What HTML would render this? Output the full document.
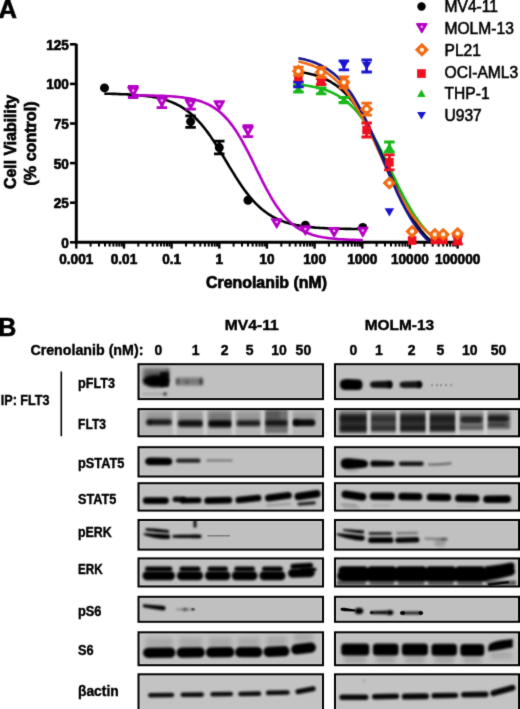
<!DOCTYPE html>
<html><head><meta charset="utf-8"><title>Figure</title>
<style>html,body{margin:0;padding:0;background:#fff;overflow:hidden}svg{display:block}text{font-family:"Liberation Sans",sans-serif}</style>
</head><body>
<svg width="520" height="709" viewBox="0 0 520 709" font-family="Liberation Sans, sans-serif"><defs><filter id="gall" filterUnits="userSpaceOnUse" x="0" y="0" width="520" height="709" color-interpolation-filters="sRGB"><feConvolveMatrix order="3" kernelMatrix="0.0144 0.0912 0.0144 0.0912 0.5776 0.0912 0.0144 0.0912 0.0144" divisor="1" edgeMode="duplicate" preserveAlpha="false"/></filter><filter id="bl5" filterUnits="userSpaceOnUse" x="0" y="0" width="520" height="720"><feGaussianBlur stdDeviation="0.5"/></filter><filter id="bl6" filterUnits="userSpaceOnUse" x="0" y="0" width="520" height="720"><feGaussianBlur stdDeviation="0.6"/></filter><filter id="bl7" filterUnits="userSpaceOnUse" x="0" y="0" width="520" height="720"><feGaussianBlur stdDeviation="0.7"/></filter><filter id="bl8" filterUnits="userSpaceOnUse" x="0" y="0" width="520" height="720"><feGaussianBlur stdDeviation="0.8"/></filter><filter id="bl9" filterUnits="userSpaceOnUse" x="0" y="0" width="520" height="720"><feGaussianBlur stdDeviation="0.9"/></filter><filter id="bl10" filterUnits="userSpaceOnUse" x="0" y="0" width="520" height="720"><feGaussianBlur stdDeviation="1.0"/></filter><filter id="bl11" filterUnits="userSpaceOnUse" x="0" y="0" width="520" height="720"><feGaussianBlur stdDeviation="1.1"/></filter><filter id="bl12" filterUnits="userSpaceOnUse" x="0" y="0" width="520" height="720"><feGaussianBlur stdDeviation="1.2"/></filter><filter id="bl13" filterUnits="userSpaceOnUse" x="0" y="0" width="520" height="720"><feGaussianBlur stdDeviation="1.3"/></filter><filter id="bl14" filterUnits="userSpaceOnUse" x="0" y="0" width="520" height="720"><feGaussianBlur stdDeviation="1.4"/></filter><filter id="bl15" filterUnits="userSpaceOnUse" x="0" y="0" width="520" height="720"><feGaussianBlur stdDeviation="1.5"/></filter><filter id="bl16" filterUnits="userSpaceOnUse" x="0" y="0" width="520" height="720"><feGaussianBlur stdDeviation="1.6"/></filter><filter id="bl20" filterUnits="userSpaceOnUse" x="0" y="0" width="520" height="720"><feGaussianBlur stdDeviation="2.0"/></filter><filter id="bl22" filterUnits="userSpaceOnUse" x="0" y="0" width="520" height="720"><feGaussianBlur stdDeviation="2.2"/></filter></defs><rect width="520" height="709" fill="#fff"/><g filter="url(#gall)"><rect width="520" height="709" fill="#fff"/><text x="-1.4" y="17.8" font-size="25.6" font-weight="bold" stroke="#000" stroke-width="0.6">A</text><path d="M76.3 43.8 V242.3 H458.08" fill="none" stroke="#000" stroke-width="3"/><path d="M70 242.3 H76.3" stroke="#000" stroke-width="2.6"/><text x="68.9" y="247.8" font-size="14.6" font-weight="bold" text-anchor="end" textLength="7.6" lengthAdjust="spacingAndGlyphs" stroke="#000" stroke-width="0.7">0</text><path d="M70 202.7 H76.3" stroke="#000" stroke-width="2.6"/><text x="68.9" y="208.2" font-size="14.6" font-weight="bold" text-anchor="end" textLength="15.1" lengthAdjust="spacingAndGlyphs" stroke="#000" stroke-width="0.7">25</text><path d="M70 163.1 H76.3" stroke="#000" stroke-width="2.6"/><text x="68.9" y="168.6" font-size="14.6" font-weight="bold" text-anchor="end" textLength="15.1" lengthAdjust="spacingAndGlyphs" stroke="#000" stroke-width="0.7">50</text><path d="M70 123.5 H76.3" stroke="#000" stroke-width="2.6"/><text x="68.9" y="129.0" font-size="14.6" font-weight="bold" text-anchor="end" textLength="15.1" lengthAdjust="spacingAndGlyphs" stroke="#000" stroke-width="0.7">75</text><path d="M70 83.9 H76.3" stroke="#000" stroke-width="2.6"/><text x="68.9" y="89.4" font-size="14.6" font-weight="bold" text-anchor="end" textLength="22.7" lengthAdjust="spacingAndGlyphs" stroke="#000" stroke-width="0.7">100</text><path d="M70 44.3 H76.3" stroke="#000" stroke-width="2.6"/><text x="68.9" y="49.8" font-size="14.6" font-weight="bold" text-anchor="end" textLength="22.7" lengthAdjust="spacingAndGlyphs" stroke="#000" stroke-width="0.7">125</text><path d="M76.3 242.3 V248.6" stroke="#000" stroke-width="2.4"/><text x="76.3" y="264" font-size="14.6" font-weight="bold" text-anchor="middle" textLength="34.0" lengthAdjust="spacingAndGlyphs" stroke="#000" stroke-width="0.7">0.001</text><path d="M90.6 242.3 V246.6" stroke="#000" stroke-width="2"/><path d="M99.0 242.3 V246.6" stroke="#000" stroke-width="2"/><path d="M105.0 242.3 V246.6" stroke="#000" stroke-width="2"/><path d="M109.6 242.3 V246.6" stroke="#000" stroke-width="2"/><path d="M113.4 242.3 V246.6" stroke="#000" stroke-width="2"/><path d="M116.6 242.3 V246.6" stroke="#000" stroke-width="2"/><path d="M119.3 242.3 V246.6" stroke="#000" stroke-width="2"/><path d="M121.8 242.3 V246.6" stroke="#000" stroke-width="2"/><path d="M124.0 242.3 V248.6" stroke="#000" stroke-width="2.4"/><text x="124.0" y="264" font-size="14.6" font-weight="bold" text-anchor="middle" textLength="26.5" lengthAdjust="spacingAndGlyphs" stroke="#000" stroke-width="0.7">0.01</text><path d="M138.3 242.3 V246.6" stroke="#000" stroke-width="2"/><path d="M146.7 242.3 V246.6" stroke="#000" stroke-width="2"/><path d="M152.7 242.3 V246.6" stroke="#000" stroke-width="2"/><path d="M157.3 242.3 V246.6" stroke="#000" stroke-width="2"/><path d="M161.0 242.3 V246.6" stroke="#000" stroke-width="2"/><path d="M164.2 242.3 V246.6" stroke="#000" stroke-width="2"/><path d="M167.0 242.3 V246.6" stroke="#000" stroke-width="2"/><path d="M169.4 242.3 V246.6" stroke="#000" stroke-width="2"/><path d="M171.6 242.3 V248.6" stroke="#000" stroke-width="2.4"/><text x="171.6" y="264" font-size="14.6" font-weight="bold" text-anchor="middle" textLength="18.9" lengthAdjust="spacingAndGlyphs" stroke="#000" stroke-width="0.7">0.1</text><path d="M186.0 242.3 V246.6" stroke="#000" stroke-width="2"/><path d="M194.4 242.3 V246.6" stroke="#000" stroke-width="2"/><path d="M200.3 242.3 V246.6" stroke="#000" stroke-width="2"/><path d="M204.9 242.3 V246.6" stroke="#000" stroke-width="2"/><path d="M208.7 242.3 V246.6" stroke="#000" stroke-width="2"/><path d="M211.9 242.3 V246.6" stroke="#000" stroke-width="2"/><path d="M214.7 242.3 V246.6" stroke="#000" stroke-width="2"/><path d="M217.1 242.3 V246.6" stroke="#000" stroke-width="2"/><path d="M219.3 242.3 V248.6" stroke="#000" stroke-width="2.4"/><text x="219.3" y="264" font-size="14.6" font-weight="bold" text-anchor="middle" textLength="7.6" lengthAdjust="spacingAndGlyphs" stroke="#000" stroke-width="0.7">1</text><path d="M233.6 242.3 V246.6" stroke="#000" stroke-width="2"/><path d="M242.0 242.3 V246.6" stroke="#000" stroke-width="2"/><path d="M248.0 242.3 V246.6" stroke="#000" stroke-width="2"/><path d="M252.6 242.3 V246.6" stroke="#000" stroke-width="2"/><path d="M256.4 242.3 V246.6" stroke="#000" stroke-width="2"/><path d="M259.6 242.3 V246.6" stroke="#000" stroke-width="2"/><path d="M262.3 242.3 V246.6" stroke="#000" stroke-width="2"/><path d="M264.8 242.3 V246.6" stroke="#000" stroke-width="2"/><path d="M266.9 242.3 V248.6" stroke="#000" stroke-width="2.4"/><text x="266.9" y="264" font-size="14.6" font-weight="bold" text-anchor="middle" textLength="15.1" lengthAdjust="spacingAndGlyphs" stroke="#000" stroke-width="0.7">10</text><path d="M281.3 242.3 V246.6" stroke="#000" stroke-width="2"/><path d="M289.7 242.3 V246.6" stroke="#000" stroke-width="2"/><path d="M295.6 242.3 V246.6" stroke="#000" stroke-width="2"/><path d="M300.3 242.3 V246.6" stroke="#000" stroke-width="2"/><path d="M304.0 242.3 V246.6" stroke="#000" stroke-width="2"/><path d="M307.2 242.3 V246.6" stroke="#000" stroke-width="2"/><path d="M310.0 242.3 V246.6" stroke="#000" stroke-width="2"/><path d="M312.4 242.3 V246.6" stroke="#000" stroke-width="2"/><path d="M314.6 242.3 V248.6" stroke="#000" stroke-width="2.4"/><text x="314.6" y="264" font-size="14.6" font-weight="bold" text-anchor="middle" textLength="22.7" lengthAdjust="spacingAndGlyphs" stroke="#000" stroke-width="0.7">100</text><path d="M328.9 242.3 V246.6" stroke="#000" stroke-width="2"/><path d="M337.3 242.3 V246.6" stroke="#000" stroke-width="2"/><path d="M343.3 242.3 V246.6" stroke="#000" stroke-width="2"/><path d="M347.9 242.3 V246.6" stroke="#000" stroke-width="2"/><path d="M351.7 242.3 V246.6" stroke="#000" stroke-width="2"/><path d="M354.9 242.3 V246.6" stroke="#000" stroke-width="2"/><path d="M357.6 242.3 V246.6" stroke="#000" stroke-width="2"/><path d="M360.1 242.3 V246.6" stroke="#000" stroke-width="2"/><path d="M362.3 242.3 V248.6" stroke="#000" stroke-width="2.4"/><text x="362.3" y="264" font-size="14.6" font-weight="bold" text-anchor="middle" textLength="30.2" lengthAdjust="spacingAndGlyphs" stroke="#000" stroke-width="0.7">1000</text><path d="M376.6 242.3 V246.6" stroke="#000" stroke-width="2"/><path d="M385.0 242.3 V246.6" stroke="#000" stroke-width="2"/><path d="M391.0 242.3 V246.6" stroke="#000" stroke-width="2"/><path d="M395.6 242.3 V246.6" stroke="#000" stroke-width="2"/><path d="M399.3 242.3 V246.6" stroke="#000" stroke-width="2"/><path d="M402.5 242.3 V246.6" stroke="#000" stroke-width="2"/><path d="M405.3 242.3 V246.6" stroke="#000" stroke-width="2"/><path d="M407.7 242.3 V246.6" stroke="#000" stroke-width="2"/><path d="M409.9 242.3 V248.6" stroke="#000" stroke-width="2.4"/><text x="409.9" y="264" font-size="14.6" font-weight="bold" text-anchor="middle" textLength="37.8" lengthAdjust="spacingAndGlyphs" stroke="#000" stroke-width="0.7">10000</text><path d="M424.3 242.3 V246.6" stroke="#000" stroke-width="2"/><path d="M432.7 242.3 V246.6" stroke="#000" stroke-width="2"/><path d="M438.6 242.3 V246.6" stroke="#000" stroke-width="2"/><path d="M443.2 242.3 V246.6" stroke="#000" stroke-width="2"/><path d="M447.0 242.3 V246.6" stroke="#000" stroke-width="2"/><path d="M450.2 242.3 V246.6" stroke="#000" stroke-width="2"/><path d="M453.0 242.3 V246.6" stroke="#000" stroke-width="2"/><path d="M455.4 242.3 V246.6" stroke="#000" stroke-width="2"/><path d="M457.6 242.3 V248.6" stroke="#000" stroke-width="2.4"/><text x="457.6" y="264" font-size="14.6" font-weight="bold" text-anchor="middle" textLength="45.4" lengthAdjust="spacingAndGlyphs" stroke="#000" stroke-width="0.7">100000</text><text x="266.5" y="288.4" font-size="16.4" font-weight="bold" text-anchor="middle" textLength="121" lengthAdjust="spacingAndGlyphs" stroke="#000" stroke-width="0.7">Crenolanib (nM)</text><text transform="translate(16.4,142) rotate(-90)" font-size="16.4" font-weight="bold" text-anchor="middle" textLength="94" lengthAdjust="spacingAndGlyphs" stroke="#000" stroke-width="0.7">Cell Viability</text><text transform="translate(35.8,143.5) rotate(-90)" font-size="16.4" font-weight="bold" text-anchor="middle" textLength="84" lengthAdjust="spacingAndGlyphs" stroke="#000" stroke-width="0.7">(% control)</text><path d="M104.3 93.7 L106.5 93.7 L108.6 93.8 L110.8 93.8 L112.9 93.9 L115.1 93.9 L117.2 94.0 L119.4 94.1 L121.5 94.2 L123.7 94.2 L125.8 94.3 L128.0 94.4 L130.2 94.6 L132.3 94.7 L134.5 94.8 L136.6 95.0 L138.8 95.2 L140.9 95.4 L143.1 95.6 L145.2 95.9 L147.4 96.1 L149.5 96.4 L151.7 96.8 L153.8 97.1 L156.0 97.6 L158.2 98.0 L160.3 98.5 L162.5 99.1 L164.6 99.7 L166.8 100.3 L168.9 101.1 L171.1 101.9 L173.2 102.8 L175.4 103.7 L177.5 104.8 L179.7 105.9 L181.8 107.2 L184.0 108.6 L186.2 110.1 L188.3 111.7 L190.5 113.4 L192.6 115.3 L194.8 117.3 L196.9 119.5 L199.1 121.8 L201.2 124.2 L203.4 126.8 L205.5 129.5 L207.7 132.4 L209.9 135.4 L212.0 138.6 L214.2 141.8 L216.3 145.2 L218.5 148.6 L220.6 152.1 L222.8 155.6 L224.9 159.2 L227.1 162.8 L229.2 166.4 L231.4 169.9 L233.6 173.4 L235.7 176.9 L237.9 180.2 L240.0 183.5 L242.2 186.7 L244.3 189.7 L246.5 192.6 L248.6 195.3 L250.8 198.0 L252.9 200.4 L255.1 202.8 L257.2 204.9 L259.4 207.0 L261.6 208.9 L263.7 210.6 L265.9 212.3 L268.0 213.8 L270.2 215.2 L272.3 216.5 L274.5 217.6 L276.6 218.7 L278.8 219.7 L280.9 220.6 L283.1 221.4 L285.2 222.2 L287.4 222.8 L289.6 223.4 L291.7 224.0 L293.9 224.5 L296.0 225.0 L298.2 225.4 L300.3 225.8 L302.5 226.1 L304.6 226.4 L306.8 226.7 L308.9 226.9 L311.1 227.2 L313.3 227.4 L315.4 227.6 L317.6 227.7 L319.7 227.9 L321.9 228.0 L324.0 228.1 L326.2 228.3 L328.3 228.4 L330.5 228.4 L332.6 228.5 L334.8 228.6 L336.9 228.7 L339.1 228.7 L341.3 228.8 L343.4 228.8 L345.6 228.9 L347.7 228.9 L349.9 228.9 L352.0 229.0 L354.2 229.0 L356.3 229.0 L358.5 229.0 L360.6 229.1 L362.8 229.1" fill="none" stroke="#000" stroke-width="2.6" stroke-linejoin="round"/><path d="M132.5 95.3 L134.4 95.3 L136.3 95.3 L138.3 95.3 L140.2 95.4 L142.1 95.4 L144.0 95.4 L145.9 95.4 L147.9 95.5 L149.8 95.5 L151.7 95.6 L153.6 95.6 L155.5 95.7 L157.4 95.7 L159.4 95.8 L161.3 95.8 L163.2 95.9 L165.1 96.0 L167.0 96.1 L169.0 96.2 L170.9 96.3 L172.8 96.5 L174.7 96.6 L176.6 96.8 L178.6 97.0 L180.5 97.2 L182.4 97.4 L184.3 97.7 L186.2 98.0 L188.2 98.3 L190.1 98.6 L192.0 99.0 L193.9 99.4 L195.8 99.9 L197.8 100.4 L199.7 101.0 L201.6 101.6 L203.5 102.4 L205.4 103.1 L207.3 104.0 L209.3 104.9 L211.2 106.0 L213.1 107.1 L215.0 108.4 L216.9 109.7 L218.9 111.2 L220.8 112.8 L222.7 114.6 L224.6 116.5 L226.5 118.5 L228.5 120.7 L230.4 123.1 L232.3 125.6 L234.2 128.3 L236.1 131.1 L238.1 134.1 L240.0 137.3 L241.9 140.6 L243.8 144.1 L245.7 147.6 L247.7 151.3 L249.6 155.1 L251.5 158.9 L253.4 162.8 L255.3 166.8 L257.2 170.7 L259.2 174.6 L261.1 178.5 L263.0 182.3 L264.9 186.0 L266.8 189.7 L268.8 193.2 L270.7 196.6 L272.6 199.8 L274.5 202.9 L276.4 205.8 L278.4 208.6 L280.3 211.2 L282.2 213.7 L284.1 216.0 L286.0 218.1 L288.0 220.1 L289.9 221.9 L291.8 223.6 L293.7 225.1 L295.6 226.6 L297.5 227.9 L299.5 229.0 L301.4 230.1 L303.3 231.1 L305.2 232.0 L307.1 232.9 L309.1 233.6 L311.0 234.3 L312.9 234.9 L314.8 235.4 L316.7 235.9 L318.7 236.4 L320.6 236.8 L322.5 237.2 L324.4 237.5 L326.3 237.8 L328.3 238.1 L330.2 238.3 L332.1 238.5 L334.0 238.7 L335.9 238.9 L337.9 239.1 L339.8 239.2 L341.7 239.3 L343.6 239.4 L345.5 239.5 L347.4 239.6 L349.4 239.7 L351.3 239.8 L353.2 239.9 L355.1 239.9 L357.0 240.0 L359.0 240.0 L360.9 240.1 L362.8 240.1" fill="none" stroke="#b400c4" stroke-width="2.6" stroke-linejoin="round"/><path d="M298.4 84.6 L299.7 84.7 L301.1 84.9 L302.4 85.0 L303.7 85.2 L305.0 85.4 L306.4 85.5 L307.7 85.7 L309.0 86.0 L310.4 86.2 L311.7 86.4 L313.0 86.7 L314.4 86.9 L315.7 87.2 L317.0 87.5 L318.3 87.8 L319.7 88.2 L321.0 88.5 L322.3 88.9 L323.7 89.3 L325.0 89.8 L326.3 90.2 L327.7 90.7 L329.0 91.2 L330.3 91.8 L331.6 92.4 L333.0 93.0 L334.3 93.6 L335.6 94.3 L337.0 95.0 L338.3 95.8 L339.6 96.6 L341.0 97.4 L342.3 98.3 L343.6 99.3 L344.9 100.3 L346.3 101.3 L347.6 102.4 L348.9 103.6 L350.3 104.8 L351.6 106.0 L352.9 107.4 L354.3 108.7 L355.6 110.2 L356.9 111.7 L358.2 113.3 L359.6 115.0 L360.9 116.7 L362.2 118.5 L363.6 120.3 L364.9 122.2 L366.2 124.2 L367.6 126.3 L368.9 128.4 L370.2 130.6 L371.6 132.8 L372.9 135.2 L374.2 137.5 L375.5 140.0 L376.9 142.4 L378.2 145.0 L379.5 147.5 L380.9 150.2 L382.2 152.8 L383.5 155.5 L384.9 158.2 L386.2 161.0 L387.5 163.7 L388.8 166.5 L390.2 169.3 L391.5 172.1 L392.8 174.9 L394.2 177.6 L395.5 180.4 L396.8 183.1 L398.1 185.8 L399.5 188.5 L400.8 191.1 L402.1 193.7 L403.5 196.3 L404.8 198.8 L406.1 201.2 L407.5 203.6 L408.8 205.9 L410.1 208.2 L411.4 210.4 L412.8 212.6 L414.1 214.7 L415.4 216.7 L416.8 218.6 L418.1 220.5 L419.4 222.3 L420.8 224.1 L422.1 225.7 L423.4 227.3 L424.8 228.9 L426.1 230.4 L427.4 231.8 L428.7 233.1 L430.1 234.4 L431.4 235.7 L432.7 236.8 L434.1 237.9 L435.4 239.0 L436.7 240.0 L438.1 241.0 L438.5 241.3" fill="none" stroke="#18b818" stroke-width="2.6" stroke-linejoin="round"/><path d="M303.4 72.5 L304.7 72.8 L306.0 73.0 L307.3 73.3 L308.6 73.6 L309.8 73.8 L311.1 74.2 L312.4 74.5 L313.7 74.8 L315.0 75.2 L316.3 75.6 L317.6 76.0 L318.9 76.5 L320.1 76.9 L321.4 77.4 L322.7 77.9 L324.0 78.5 L325.3 79.1 L326.6 79.7 L327.9 80.3 L329.2 81.0 L330.5 81.7 L331.7 82.5 L333.0 83.3 L334.3 84.1 L335.6 85.0 L336.9 85.9 L338.2 86.9 L339.5 87.9 L340.8 89.0 L342.0 90.1 L343.3 91.3 L344.6 92.5 L345.9 93.8 L347.2 95.2 L348.5 96.6 L349.8 98.1 L351.1 99.6 L352.4 101.2 L353.6 102.9 L354.9 104.6 L356.2 106.4 L357.5 108.3 L358.8 110.2 L360.1 112.2 L361.4 114.3 L362.7 116.5 L364.0 118.7 L365.2 121.0 L366.5 123.3 L367.8 125.7 L369.1 128.2 L370.4 130.7 L371.7 133.3 L373.0 135.9 L374.3 138.6 L375.5 141.3 L376.8 144.1 L378.1 146.9 L379.4 149.7 L380.7 152.6 L382.0 155.5 L383.3 158.4 L384.6 161.3 L385.9 164.3 L387.1 167.2 L388.4 170.1 L389.7 173.0 L391.0 175.9 L392.3 178.8 L393.6 181.7 L394.9 184.5 L396.2 187.3 L397.4 190.1 L398.7 192.8 L400.0 195.5 L401.3 198.1 L402.6 200.7 L403.9 203.2 L405.2 205.7 L406.5 208.1 L407.8 210.4 L409.0 212.7 L410.3 214.9 L411.6 217.0 L412.9 219.1 L414.2 221.1 L415.5 223.0 L416.8 224.9 L418.1 226.7 L419.4 228.4 L420.6 230.1 L421.9 231.7 L423.2 233.2 L424.5 234.7 L425.8 236.1 L427.1 237.5 L428.4 238.7 L429.7 240.0 L430.9 241.1 L431.1 241.3" fill="none" stroke="#000" stroke-width="2.6" stroke-linejoin="round"/><path d="M298.4 61.5 L299.7 61.8 L301.1 62.1 L302.4 62.5 L303.7 62.8 L305.0 63.2 L306.4 63.6 L307.7 64.0 L309.0 64.4 L310.4 64.8 L311.7 65.3 L313.0 65.8 L314.4 66.4 L315.7 66.9 L317.0 67.5 L318.3 68.2 L319.7 68.8 L321.0 69.5 L322.3 70.3 L323.7 71.0 L325.0 71.8 L326.3 72.7 L327.7 73.6 L329.0 74.5 L330.3 75.5 L331.6 76.6 L333.0 77.7 L334.3 78.8 L335.6 80.0 L337.0 81.2 L338.3 82.6 L339.6 83.9 L341.0 85.4 L342.3 86.8 L343.6 88.4 L344.9 90.0 L346.3 91.7 L347.6 93.4 L348.9 95.2 L350.3 97.1 L351.6 99.1 L352.9 101.1 L354.3 103.2 L355.6 105.3 L356.9 107.5 L358.2 109.8 L359.6 112.1 L360.9 114.5 L362.2 117.0 L363.6 119.5 L364.9 122.1 L366.2 124.7 L367.6 127.4 L368.9 130.1 L370.2 132.9 L371.6 135.7 L372.9 138.5 L374.2 141.3 L375.5 144.2 L376.9 147.1 L378.2 150.0 L379.5 153.0 L380.9 155.9 L382.2 158.8 L383.5 161.7 L384.9 164.6 L386.2 167.5 L387.5 170.4 L388.8 173.2 L390.2 176.0 L391.5 178.8 L392.8 181.6 L394.2 184.2 L395.5 186.9 L396.8 189.5 L398.1 192.0 L399.5 194.5 L400.8 196.9 L402.1 199.3 L403.5 201.6 L404.8 203.8 L406.1 206.0 L407.5 208.1 L408.8 210.2 L410.1 212.1 L411.4 214.0 L412.8 215.9 L414.1 217.6 L415.4 219.4 L416.8 221.0 L418.1 222.6 L419.4 224.1 L420.8 225.5 L422.1 226.9 L423.4 228.3 L424.8 229.5 L426.1 230.8 L427.4 231.9 L428.7 233.0 L430.1 234.1 L431.4 235.1 L432.7 236.1 L434.1 237.0 L435.4 237.9 L436.7 238.7 L438.1 239.5 L439.4 240.2 L440.7 240.9 L441.4 241.3" fill="none" stroke="#f26a12" stroke-width="2.6" stroke-linejoin="round"/><path d="M298.4 58.2 L299.7 58.4 L301.1 58.7 L302.4 59.0 L303.7 59.3 L305.0 59.6 L306.4 60.0 L307.7 60.3 L309.0 60.7 L310.4 61.1 L311.7 61.6 L313.0 62.0 L314.4 62.5 L315.7 63.0 L317.0 63.6 L318.3 64.2 L319.7 64.8 L321.0 65.4 L322.3 66.1 L323.7 66.8 L325.0 67.6 L326.3 68.4 L327.7 69.3 L329.0 70.2 L330.3 71.1 L331.6 72.1 L333.0 73.1 L334.3 74.2 L335.6 75.4 L337.0 76.6 L338.3 77.9 L339.6 79.2 L341.0 80.6 L342.3 82.1 L343.6 83.6 L344.9 85.2 L346.3 86.9 L347.6 88.6 L348.9 90.4 L350.3 92.3 L351.6 94.3 L352.9 96.3 L354.3 98.4 L355.6 100.6 L356.9 102.9 L358.2 105.2 L359.6 107.6 L360.9 110.1 L362.2 112.7 L363.6 115.3 L364.9 118.0 L366.2 120.7 L367.6 123.6 L368.9 126.5 L370.2 129.4 L371.6 132.4 L372.9 135.4 L374.2 138.5 L375.5 141.6 L376.9 144.8 L378.2 147.9 L379.5 151.1 L380.9 154.3 L382.2 157.5 L383.5 160.7 L384.9 164.0 L386.2 167.2 L387.5 170.3 L388.8 173.5 L390.2 176.6 L391.5 179.8 L392.8 182.8 L394.2 185.8 L395.5 188.8 L396.8 191.7 L398.1 194.6 L399.5 197.4 L400.8 200.2 L402.1 202.8 L403.5 205.4 L404.8 208.0 L406.1 210.4 L407.5 212.8 L408.8 215.2 L410.1 217.4 L411.4 219.6 L412.8 221.7 L414.1 223.7 L415.4 225.6 L416.8 227.5 L418.1 229.3 L419.4 231.0 L420.8 232.6 L422.1 234.2 L423.4 235.7 L424.8 237.1 L426.1 238.5 L427.4 239.8 L428.7 241.1 L429.0 241.3" fill="none" stroke="#16168a" stroke-width="2.6" stroke-linejoin="round"/><circle cx="104.5" cy="87.9" r="4.5" fill="#000"/><path d="M190.6 115.9 V127.3 M185.3 115.9 H195.8 M185.3 127.3 H195.8" stroke="#000" stroke-width="2.8" fill="none"/><circle cx="190.6" cy="121.6" r="4.5" fill="#000"/><path d="M219.3 141.2 V153.9 M214.0 141.2 H224.5 M214.0 153.9 H224.5" stroke="#000" stroke-width="2.8" fill="none"/><circle cx="219.3" cy="147.6" r="4.5" fill="#000"/><circle cx="248.0" cy="200.3" r="4.5" fill="#000"/><circle cx="305.4" cy="225.2" r="4.5" fill="#000"/><circle cx="362.8" cy="227.4" r="4.5" fill="#000"/><path d="M133.2 86.4 V97.5 M127.9 86.4 H138.4 M127.9 97.5 H138.4" stroke="#b400c4" stroke-width="2.8" fill="none"/><polygon points="127.9,87.4 138.4,87.4 133.2,96.5" fill="#b400c4" stroke="#b400c4" stroke-width="1.4" stroke-linejoin="round"/><circle cx="133.2" cy="90.5" r="1.25" fill="#eab0f6"/><path d="M161.9 96.6 V107.7 M156.6 96.6 H167.1 M156.6 107.7 H167.1" stroke="#b400c4" stroke-width="2.8" fill="none"/><polygon points="156.6,97.5 167.1,97.5 161.9,106.7" fill="#b400c4" stroke="#b400c4" stroke-width="1.4" stroke-linejoin="round"/><circle cx="161.9" cy="100.6" r="1.25" fill="#eab0f6"/><path d="M190.6 99.7 V109.2 M185.3 99.7 H195.8 M185.3 109.2 H195.8" stroke="#b400c4" stroke-width="2.8" fill="none"/><polygon points="185.3,99.9 195.8,99.9 190.6,109.1" fill="#b400c4" stroke="#b400c4" stroke-width="1.4" stroke-linejoin="round"/><circle cx="190.6" cy="103.0" r="1.25" fill="#eab0f6"/><polygon points="214.0,101.0 224.5,101.0 219.3,110.2" fill="#b400c4" stroke="#b400c4" stroke-width="1.4" stroke-linejoin="round"/><circle cx="219.3" cy="104.1" r="1.25" fill="#eab0f6"/><path d="M248.0 125.6 V136.6 M242.7 125.6 H253.2 M242.7 136.6 H253.2" stroke="#b400c4" stroke-width="2.8" fill="none"/><polygon points="242.7,126.5 253.2,126.5 248.0,135.7" fill="#b400c4" stroke="#b400c4" stroke-width="1.4" stroke-linejoin="round"/><circle cx="248.0" cy="129.6" r="1.25" fill="#eab0f6"/><polygon points="271.4,218.9 281.9,218.9 276.7,228.0" fill="#b400c4" stroke="#b400c4" stroke-width="1.4" stroke-linejoin="round"/><circle cx="276.7" cy="221.9" r="1.25" fill="#eab0f6"/><polygon points="300.1,225.9 310.6,225.9 305.4,235.0" fill="#b400c4" stroke="#b400c4" stroke-width="1.4" stroke-linejoin="round"/><circle cx="305.4" cy="228.9" r="1.25" fill="#eab0f6"/><polygon points="328.8,227.8 339.3,227.8 334.1,236.9" fill="#b400c4" stroke="#b400c4" stroke-width="1.4" stroke-linejoin="round"/><circle cx="334.1" cy="230.8" r="1.25" fill="#eab0f6"/><polygon points="357.5,227.4 368.0,227.4 362.8,236.6" fill="#b400c4" stroke="#b400c4" stroke-width="1.4" stroke-linejoin="round"/><circle cx="362.8" cy="230.5" r="1.25" fill="#eab0f6"/><path d="M298.4 85.0 V92.0 M293.2 85.0 H303.7 M293.2 92.0 H303.7" stroke="#18b818" stroke-width="2.8" fill="none"/><polygon points="293.7,92.8 303.2,92.8 298.4,84.2" fill="#18b818"/><path d="M321.1 87.8 V93.8 M315.9 87.8 H326.4 M315.9 93.8 H326.4" stroke="#18b818" stroke-width="2.8" fill="none"/><polygon points="316.4,95.1 325.9,95.1 321.1,86.5" fill="#18b818"/><path d="M343.9 97.5 V102.5 M338.6 97.5 H349.1 M338.6 102.5 H349.1" stroke="#18b818" stroke-width="2.8" fill="none"/><polygon points="339.1,104.3 348.6,104.3 343.9,95.7" fill="#18b818"/><polygon points="361.9,132.3 371.4,132.3 366.6,123.7" fill="#18b818"/><path d="M389.4 142.0 V152.0 M384.1 142.0 H394.6 M384.1 152.0 H394.6" stroke="#18b818" stroke-width="2.8" fill="none"/><polygon points="384.6,151.3 394.1,151.3 389.4,142.7" fill="#18b818"/><path d="M298.4 81.9 V86.9 M293.2 81.9 H303.7 M293.2 86.9 H303.7" stroke="#1a14d0" stroke-width="2.8" fill="none"/><polygon points="293.7,80.3 303.2,80.3 298.4,88.5" fill="#1a14d0"/><path d="M343.9 60.9 V69.9 M338.6 60.9 H349.1 M338.6 69.9 H349.1" stroke="#1a14d0" stroke-width="2.8" fill="none"/><polygon points="339.1,61.3 348.6,61.3 343.9,69.5" fill="#1a14d0"/><path d="M366.6 60.0 V72.0 M361.4 60.0 H371.9 M361.4 72.0 H371.9" stroke="#1a14d0" stroke-width="2.8" fill="none"/><polygon points="361.9,61.9 371.4,61.9 366.6,70.1" fill="#1a14d0"/><polygon points="384.6,208.3 394.1,208.3 389.4,216.5" fill="#1a14d0"/><rect x="294.1" y="72.6" width="8.6" height="8.6" fill="#ee1020"/><path d="M321.1 78.5 V84.5 M315.9 78.5 H326.4 M315.9 84.5 H326.4" stroke="#ee1020" stroke-width="2.8" fill="none"/><rect x="316.8" y="77.2" width="8.6" height="8.6" fill="#ee1020"/><rect x="339.6" y="79.7" width="8.6" height="8.6" fill="#ee1020"/><path d="M366.6 123.0 V137.0 M361.4 123.0 H371.9 M361.4 137.0 H371.9" stroke="#ee1020" stroke-width="2.8" fill="none"/><rect x="362.3" y="125.7" width="8.6" height="8.6" fill="#ee1020"/><path d="M389.4 154.8 V169.8 M384.1 154.8 H394.6 M384.1 169.8 H394.6" stroke="#ee1020" stroke-width="2.8" fill="none"/><rect x="385.1" y="158.0" width="8.6" height="8.6" fill="#ee1020"/><rect x="407.8" y="236.2" width="8.6" height="8.6" fill="#ee1020"/><rect x="430.5" y="235.7" width="8.6" height="8.6" fill="#ee1020"/><rect x="438.9" y="235.7" width="8.6" height="8.6" fill="#ee1020"/><path d="M457.6 236.0 V244.0 M452.3 236.0 H462.8 M452.3 244.0 H462.8" stroke="#ee1020" stroke-width="2.8" fill="none"/><rect x="453.3" y="235.7" width="8.6" height="8.6" fill="#ee1020"/><path d="M298.4 67.2 V75.2 M293.2 67.2 H303.7 M293.2 75.2 H303.7" stroke="#f26a12" stroke-width="2.8" fill="none"/><polygon points="298.4,65.0 304.7,71.2 298.4,77.5 292.2,71.2" fill="#f26a12" stroke="#f26a12" stroke-width="1" stroke-linejoin="round"/><circle cx="298.4" cy="71.2" r="2.1" fill="#fff8e8"/><path d="M321.1 67.3 V77.3 M315.9 67.3 H326.4 M315.9 77.3 H326.4" stroke="#f26a12" stroke-width="2.8" fill="none"/><polygon points="321.1,66.0 327.4,72.3 321.1,78.5 314.9,72.3" fill="#f26a12" stroke="#f26a12" stroke-width="1" stroke-linejoin="round"/><circle cx="321.1" cy="72.3" r="2.1" fill="#fff8e8"/><path d="M343.9 76.8 V87.8 M338.6 76.8 H349.1 M338.6 87.8 H349.1" stroke="#f26a12" stroke-width="2.8" fill="none"/><polygon points="343.9,76.0 350.1,82.3 343.9,88.5 337.6,82.3" fill="#f26a12" stroke="#f26a12" stroke-width="1" stroke-linejoin="round"/><circle cx="343.9" cy="82.3" r="2.1" fill="#fff8e8"/><path d="M366.6 103.2 V115.2 M361.4 103.2 H371.9 M361.4 115.2 H371.9" stroke="#f26a12" stroke-width="2.8" fill="none"/><polygon points="366.6,103.0 372.9,109.2 366.6,115.5 360.4,109.2" fill="#f26a12" stroke="#f26a12" stroke-width="1" stroke-linejoin="round"/><circle cx="366.6" cy="109.2" r="2.1" fill="#fff8e8"/><polygon points="389.4,176.8 395.6,183.0 389.4,189.2 383.1,183.0" fill="#f26a12" stroke="#f26a12" stroke-width="1" stroke-linejoin="round"/><circle cx="389.4" cy="183.0" r="2.1" fill="#fff8e8"/><polygon points="412.1,225.2 418.4,231.4 412.1,237.7 405.9,231.4" fill="#f26a12" stroke="#f26a12" stroke-width="1" stroke-linejoin="round"/><circle cx="412.1" cy="231.4" r="2.1" fill="#fff8e8"/><polygon points="434.8,228.2 441.1,234.4 434.8,240.7 428.6,234.4" fill="#f26a12" stroke="#f26a12" stroke-width="1" stroke-linejoin="round"/><circle cx="434.8" cy="234.4" r="2.1" fill="#fff8e8"/><polygon points="443.2,228.2 449.5,234.4 443.2,240.7 437.0,234.4" fill="#f26a12" stroke="#f26a12" stroke-width="1" stroke-linejoin="round"/><circle cx="443.2" cy="234.4" r="2.1" fill="#fff8e8"/><polygon points="457.6,227.2 463.8,233.5 457.6,239.8 451.3,233.5" fill="#f26a12" stroke="#f26a12" stroke-width="1" stroke-linejoin="round"/><circle cx="457.6" cy="233.5" r="2.1" fill="#fff8e8"/><circle cx="421.5" cy="6.5" r="4.2" fill="#000"/><text x="444.5" y="11.8" font-size="15.6" stroke="#000" stroke-width="0.55">MV4-11</text><polygon points="416.7,23.8 426.9,23.8 421.8,32.6" fill="#b400c4" stroke="#b400c4" stroke-width="1.4" stroke-linejoin="round"/><circle cx="421.8" cy="26.7" r="1.25" fill="#eab0f6"/><text x="444.5" y="33.7" font-size="15.6" stroke="#000" stroke-width="0.55">MOLM-13</text><polygon points="421.9,43.3 428.4,49.8 421.9,56.3 415.4,49.8" fill="#f26a12" stroke="#f26a12" stroke-width="1" stroke-linejoin="round"/><circle cx="421.9" cy="49.8" r="2.1" fill="#fff8e8"/><text x="444.5" y="55.6" font-size="15.6" stroke="#000" stroke-width="0.55">PL21</text><rect x="417.1" y="69.2" width="8.7" height="8.7" fill="#ee1020"/><text x="444.5" y="77.5" font-size="15.6" stroke="#000" stroke-width="0.55">OCI-AML3</text><polygon points="417.1,97.0 425.6,97.0 421.4,89.4" fill="#18b818"/><text x="444.5" y="99.4" font-size="15.6" stroke="#000" stroke-width="0.55">THP-1</text><polygon points="417.1,112.0 425.9,112.0 421.5,119.6" fill="#1a14d0"/><text x="444.5" y="121.3" font-size="15.6" stroke="#000" stroke-width="0.55">U937</text><text x="-1.7" y="336.1" font-size="25" font-weight="bold" stroke="#000" stroke-width="0.6">B</text><text x="30.4" y="355" font-weight="bold" font-size="14.8" stroke="#000" stroke-width="0.4" textLength="113" lengthAdjust="spacingAndGlyphs">Crenolanib (nM):</text><text x="224.8" y="330.4" font-weight="bold" font-size="14.8" stroke="#000" stroke-width="0.4" textLength="54" lengthAdjust="spacingAndGlyphs">MV4-11</text><text x="364.7" y="330.4" font-weight="bold" font-size="14.8" stroke="#000" stroke-width="0.4" textLength="69.4" lengthAdjust="spacingAndGlyphs">MOLM-13</text><text x="158.4" y="354.5" font-weight="bold" font-size="14.8" stroke="#000" stroke-width="0.4" text-anchor="middle" textLength="7.8" lengthAdjust="spacingAndGlyphs">0</text><text x="195.6" y="354.5" font-weight="bold" font-size="14.8" stroke="#000" stroke-width="0.4" text-anchor="middle" textLength="7.8" lengthAdjust="spacingAndGlyphs">1</text><text x="224.6" y="354.5" font-weight="bold" font-size="14.8" stroke="#000" stroke-width="0.4" text-anchor="middle" textLength="7.8" lengthAdjust="spacingAndGlyphs">2</text><text x="249.7" y="354.5" font-weight="bold" font-size="14.8" stroke="#000" stroke-width="0.4" text-anchor="middle" textLength="7.8" lengthAdjust="spacingAndGlyphs">5</text><text x="279.1" y="354.5" font-weight="bold" font-size="14.8" stroke="#000" stroke-width="0.4" text-anchor="middle" textLength="15.6" lengthAdjust="spacingAndGlyphs">10</text><text x="303.4" y="354.5" font-weight="bold" font-size="14.8" stroke="#000" stroke-width="0.4" text-anchor="middle" textLength="15.6" lengthAdjust="spacingAndGlyphs">50</text><text x="353.4" y="354.5" font-weight="bold" font-size="14.8" stroke="#000" stroke-width="0.4" text-anchor="middle" textLength="7.8" lengthAdjust="spacingAndGlyphs">0</text><text x="379" y="354.5" font-weight="bold" font-size="14.8" stroke="#000" stroke-width="0.4" text-anchor="middle" textLength="7.8" lengthAdjust="spacingAndGlyphs">1</text><text x="411.6" y="354.5" font-weight="bold" font-size="14.8" stroke="#000" stroke-width="0.4" text-anchor="middle" textLength="7.8" lengthAdjust="spacingAndGlyphs">2</text><text x="440.3" y="354.5" font-weight="bold" font-size="14.8" stroke="#000" stroke-width="0.4" text-anchor="middle" textLength="7.8" lengthAdjust="spacingAndGlyphs">5</text><text x="469.8" y="354.5" font-weight="bold" font-size="14.8" stroke="#000" stroke-width="0.4" text-anchor="middle" textLength="15.6" lengthAdjust="spacingAndGlyphs">10</text><text x="498.5" y="354.5" font-weight="bold" font-size="14.8" stroke="#000" stroke-width="0.4" text-anchor="middle" textLength="15.6" lengthAdjust="spacingAndGlyphs">50</text><text x="0.8" y="404.6" font-weight="bold" font-size="14.8" stroke="#000" stroke-width="0.4" textLength="48.7" lengthAdjust="spacingAndGlyphs">IP: FLT3</text><path d="M61.3 371.5 V436.2" stroke="#000" stroke-width="1.6"/><text x="78" y="388.2" font-weight="bold" font-size="14.8" stroke="#000" stroke-width="0.4" textLength="36.9" lengthAdjust="spacingAndGlyphs">pFLT3</text><text x="78" y="428.9" font-weight="bold" font-size="14.8" stroke="#000" stroke-width="0.4" textLength="28" lengthAdjust="spacingAndGlyphs">FLT3</text><text x="78" y="467.6" font-weight="bold" font-size="14.8" stroke="#000" stroke-width="0.4" textLength="46.4" lengthAdjust="spacingAndGlyphs">pSTAT5</text><text x="78" y="504.2" font-weight="bold" font-size="14.8" stroke="#000" stroke-width="0.4" textLength="38.4" lengthAdjust="spacingAndGlyphs">STAT5</text><text x="78" y="537.2" font-weight="bold" font-size="14.8" stroke="#000" stroke-width="0.4" textLength="33.7" lengthAdjust="spacingAndGlyphs">pERK</text><text x="78" y="573.8" font-weight="bold" font-size="14.8" stroke="#000" stroke-width="0.4" textLength="24.7" lengthAdjust="spacingAndGlyphs">ERK</text><text x="78" y="616" font-weight="bold" font-size="14.8" stroke="#000" stroke-width="0.4" textLength="23.5" lengthAdjust="spacingAndGlyphs">pS6</text><text x="78" y="654.6" font-weight="bold" font-size="14.8" stroke="#000" stroke-width="0.4" textLength="15.6" lengthAdjust="spacingAndGlyphs">S6</text><text x="78" y="695.8" font-weight="bold" font-size="14.8" stroke="#000" stroke-width="0.4" textLength="40.7" lengthAdjust="spacingAndGlyphs">βactin</text><g><rect x="138.5" y="364.2" width="184.5" height="34.9" fill="#c0c0c0"/><rect x="140.1" y="365.8" width="181.3" height="31.7" fill="none" stroke="#d2d2d2" stroke-width="0.9"/><svg x="138.5" y="364.2" width="184.5" height="34.900000000000034" overflow="hidden"><g transform="translate(-138.5,-364.2)"><rect x="143" y="368.5" width="25.8" height="10.5" rx="0" fill="#000" opacity="0.5" filter="url(#bl22)"/><ellipse cx="155.8" cy="381" rx="13.2" ry="6.3" fill="#000" opacity="1" filter="url(#bl14)"/><rect x="160" y="372" width="8.8" height="15.0" rx="0" fill="#000" opacity="0.9" filter="url(#bl12)"/><rect x="165.5" y="368.5" width="3.5" height="16.5" rx="0" fill="#000" opacity="0.3" filter="url(#bl10)"/><ellipse cx="165" cy="394" rx="2" ry="1.8" fill="#000" opacity="0.7" filter="url(#bl8)"/><rect x="143" y="393.2" width="20.0" height="1.6" rx="0" fill="#000" opacity="0.15" filter="url(#bl8)"/><rect x="176" y="377.5" width="27.0" height="8.0" rx="0" fill="#000" opacity="0.36" filter="url(#bl14)"/><ellipse cx="177.5" cy="381.5" rx="1.6" ry="3.2" fill="#000" opacity="0.35" filter="url(#bl8)"/><ellipse cx="201" cy="381.5" rx="1.8" ry="3.5" fill="#000" opacity="0.45" filter="url(#bl8)"/><ellipse cx="187" cy="382" rx="2" ry="2.5" fill="#000" opacity="0.2" filter="url(#bl10)"/></g></svg><rect x="138.5" y="364.2" width="184.5" height="34.9" fill="none" stroke="#000" stroke-width="2"/></g><g><rect x="335.0" y="364.2" width="184.0" height="34.9" fill="#c0c0c0"/><rect x="336.6" y="365.8" width="180.8" height="31.7" fill="none" stroke="#d2d2d2" stroke-width="0.9"/><svg x="335" y="364.2" width="184" height="34.900000000000034" overflow="hidden"><g transform="translate(-335,-364.2)"><path d="M340 384.6 C340 379.5 343 379 348 379 L358 379.5 C361 379.5 362.5 381 362.5 384.6 C362.5 389 361 390 358 390 L348 390 C343 390.2 340 389.5 340 384.6Z" fill="#000" opacity="1" filter="url(#bl12)"/><path d="M370 384.8 C370 382 372 381.2 375 381.3 L388 380.8 C391.5 380.8 392 382.5 392 384.6 C392 387.5 391.5 388.4 388 388.3 L375 387.9 C372 388 370 387.5 370 384.8Z" fill="#000" opacity="0.9" filter="url(#bl11)"/><ellipse cx="390" cy="384.6" rx="2.4" ry="3.6" fill="#000" opacity="0.9" filter="url(#bl8)"/><path d="M399.6 384.8 C399.6 382 401 381.4 404 381.4 L418 381.1 C421 381.1 421.7 382.5 421.7 384.6 C421.7 387.2 421 388 418 388 L404 387.9 C401 387.9 399.6 387.4 399.6 384.8Z" fill="#000" opacity="0.88" filter="url(#bl11)"/><ellipse cx="419.5" cy="384.6" rx="2.4" ry="3.4" fill="#000" opacity="0.9" filter="url(#bl8)"/><ellipse cx="432" cy="385" rx="1.2" ry="1.6" fill="#000" opacity="0.2" filter="url(#bl6)"/><ellipse cx="437" cy="385" rx="1.2" ry="1.6" fill="#000" opacity="0.2" filter="url(#bl6)"/><ellipse cx="441" cy="385" rx="1.2" ry="1.6" fill="#000" opacity="0.2" filter="url(#bl6)"/><ellipse cx="446" cy="385" rx="1.2" ry="1.6" fill="#000" opacity="0.2" filter="url(#bl6)"/><ellipse cx="451" cy="385" rx="1.2" ry="1.6" fill="#000" opacity="0.2" filter="url(#bl6)"/></g></svg><rect x="335.0" y="364.2" width="184.0" height="34.9" fill="none" stroke="#000" stroke-width="2"/></g><g><rect x="138.5" y="409.1" width="184.5" height="27.2" fill="#c0c0c0"/><rect x="140.1" y="410.7" width="181.3" height="24.0" fill="none" stroke="#d2d2d2" stroke-width="0.9"/><svg x="138.5" y="409.1" width="184.5" height="27.19999999999999" overflow="hidden"><g transform="translate(-138.5,-409.1)"><rect x="140" y="409" width="33.0" height="28.0" rx="0" fill="#000" opacity="0.06" filter="url(#bl15)"/><rect x="176.8" y="409" width="26.7" height="28.0" rx="0" fill="#000" opacity="0.06" filter="url(#bl15)"/><rect x="206.8" y="409" width="26.2" height="28.0" rx="0" fill="#000" opacity="0.06" filter="url(#bl15)"/><rect x="235.8" y="409" width="25.2" height="28.0" rx="0" fill="#000" opacity="0.06" filter="url(#bl15)"/><rect x="264.5" y="409" width="24.0" height="28.0" rx="0" fill="#000" opacity="0.06" filter="url(#bl15)"/><rect x="292" y="409" width="30.0" height="28.0" rx="0" fill="#000" opacity="0.06" filter="url(#bl15)"/><rect x="146.5" y="412" width="25.5" height="10.0" rx="0" fill="#000" opacity="0.16" filter="url(#bl22)"/><rect x="146.5" y="419.2" width="25.5" height="6" rx="3.0" fill="#000" opacity="0.85" filter="url(#bl15)"/><rect x="177.5" y="412" width="26.0" height="10.0" rx="0" fill="#000" opacity="0.16" filter="url(#bl22)"/><rect x="177.5" y="420.1" width="26.0" height="7" rx="3.5" fill="#000" opacity="0.9" filter="url(#bl15)"/><rect x="207.8" y="412" width="24.9" height="10.0" rx="0" fill="#000" opacity="0.16" filter="url(#bl22)"/><rect x="207.8" y="419.9" width="24.9" height="7.5" rx="3.75" fill="#000" opacity="0.95" filter="url(#bl15)"/><rect x="236.4" y="412" width="24.4" height="10.0" rx="0" fill="#000" opacity="0.16" filter="url(#bl22)"/><rect x="236.4" y="420.3" width="24.4" height="6" rx="3.0" fill="#000" opacity="0.85" filter="url(#bl15)"/><rect x="208" y="411" width="24.0" height="10.0" rx="0" fill="#000" opacity="0.2" filter="url(#bl20)"/><ellipse cx="149" cy="422.5" rx="3" ry="3" fill="#000" opacity="0.35" filter="url(#bl13)"/><rect x="264.5" y="409.5" width="23.5" height="23.5" rx="0" fill="#000" opacity="0.38" filter="url(#bl16)"/><rect x="264.5" y="420.0" width="23.5" height="6" rx="3.0" fill="#000" opacity="0.8" filter="url(#bl14)"/><rect x="266" y="411" width="14.0" height="9.0" rx="0" fill="#000" opacity="0.2" filter="url(#bl15)"/><rect x="292.3" y="413" width="23.1" height="8.0" rx="0" fill="#000" opacity="0.15" filter="url(#bl20)"/><rect x="292.3" y="419.3" width="23.1" height="7" rx="3.5" fill="#000" opacity="0.92" filter="url(#bl13)"/><ellipse cx="296" cy="422.5" rx="3.5" ry="3.5" fill="#000" opacity="0.5" filter="url(#bl10)"/><rect x="173.3" y="409" width="3" height="28" fill="#cfcfcf" opacity="1" filter="url(#bl9)"/><rect x="203.7" y="409" width="3" height="28" fill="#cfcfcf" opacity="1" filter="url(#bl9)"/><rect x="232.0" y="409" width="3" height="28" fill="#cfcfcf" opacity="1" filter="url(#bl9)"/><rect x="261.3" y="409" width="3" height="28" fill="#cfcfcf" opacity="1" filter="url(#bl9)"/><rect x="288.8" y="409" width="3" height="28" fill="#cfcfcf" opacity="1" filter="url(#bl9)"/></g></svg><rect x="138.5" y="409.1" width="184.5" height="27.2" fill="none" stroke="#000" stroke-width="2"/></g><g><rect x="335.0" y="409.1" width="184.0" height="27.2" fill="#c0c0c0"/><rect x="336.6" y="410.7" width="180.8" height="24.0" fill="none" stroke="#d2d2d2" stroke-width="0.9"/><svg x="335" y="409.1" width="184" height="27.19999999999999" overflow="hidden"><g transform="translate(-335,-409.1)"><rect x="339.5" y="410" width="28.1" height="4.0" rx="0" fill="#000" opacity="0.27999999999999997" filter="url(#bl15)"/><rect x="339.5" y="413.5" width="28.1" height="19.2" rx="0" fill="#000" opacity="0.8" filter="url(#bl15)"/><line x1="341.0" y1="418.8" x2="366.1" y2="418.8" stroke="#000" stroke-width="3" stroke-linecap="round" opacity="0.4" filter="url(#bl10)"/><line x1="341.0" y1="428.0" x2="366.1" y2="428.0" stroke="#000" stroke-width="3" stroke-linecap="round" opacity="0.36000000000000004" filter="url(#bl10)"/><line x1="342.1" y1="423.6" x2="365.0" y2="423.6" stroke="#fff" stroke-width="1.2" stroke-linecap="round" opacity="0.08" filter="url(#bl8)"/><rect x="370.2" y="410" width="26.6" height="4.0" rx="0" fill="#000" opacity="0.23099999999999998" filter="url(#bl15)"/><rect x="370.2" y="413.5" width="26.6" height="18.3" rx="0" fill="#000" opacity="0.66" filter="url(#bl15)"/><line x1="371.7" y1="418.8" x2="395.3" y2="418.8" stroke="#000" stroke-width="3" stroke-linecap="round" opacity="0.33" filter="url(#bl10)"/><line x1="371.7" y1="428.0" x2="395.3" y2="428.0" stroke="#000" stroke-width="3" stroke-linecap="round" opacity="0.29700000000000004" filter="url(#bl10)"/><line x1="372.8" y1="423.6" x2="394.2" y2="423.6" stroke="#fff" stroke-width="1.2" stroke-linecap="round" opacity="0.08" filter="url(#bl8)"/><rect x="399.4" y="410" width="27.0" height="4.0" rx="0" fill="#000" opacity="0.27299999999999996" filter="url(#bl15)"/><rect x="399.4" y="413.5" width="27.0" height="18.5" rx="0" fill="#000" opacity="0.78" filter="url(#bl15)"/><line x1="400.9" y1="418.8" x2="424.9" y2="418.8" stroke="#000" stroke-width="3" stroke-linecap="round" opacity="0.39" filter="url(#bl10)"/><line x1="400.9" y1="428.0" x2="424.9" y2="428.0" stroke="#000" stroke-width="3" stroke-linecap="round" opacity="0.35100000000000003" filter="url(#bl10)"/><line x1="402.0" y1="423.6" x2="423.8" y2="423.6" stroke="#fff" stroke-width="1.2" stroke-linecap="round" opacity="0.08" filter="url(#bl8)"/><rect x="429" y="410" width="27.0" height="4.0" rx="0" fill="#000" opacity="0.27299999999999996" filter="url(#bl15)"/><rect x="429" y="413.5" width="27.0" height="18.3" rx="0" fill="#000" opacity="0.78" filter="url(#bl15)"/><line x1="430.5" y1="418.8" x2="454.5" y2="418.8" stroke="#000" stroke-width="3" stroke-linecap="round" opacity="0.39" filter="url(#bl10)"/><line x1="430.5" y1="428.0" x2="454.5" y2="428.0" stroke="#000" stroke-width="3" stroke-linecap="round" opacity="0.35100000000000003" filter="url(#bl10)"/><line x1="431.6" y1="423.6" x2="453.4" y2="423.6" stroke="#fff" stroke-width="1.2" stroke-linecap="round" opacity="0.08" filter="url(#bl8)"/><rect x="458.8" y="410" width="25.4" height="4.0" rx="0" fill="#000" opacity="0.147" filter="url(#bl15)"/><rect x="458.8" y="413.5" width="25.4" height="16.5" rx="0" fill="#000" opacity="0.42" filter="url(#bl15)"/><line x1="460.3" y1="418.8" x2="482.7" y2="418.8" stroke="#000" stroke-width="3" stroke-linecap="round" opacity="0.21" filter="url(#bl10)"/><line x1="460.3" y1="428.0" x2="482.7" y2="428.0" stroke="#000" stroke-width="3" stroke-linecap="round" opacity="0.189" filter="url(#bl10)"/><line x1="461.4" y1="423.6" x2="481.6" y2="423.6" stroke="#fff" stroke-width="1.2" stroke-linecap="round" opacity="0.08" filter="url(#bl8)"/><rect x="486.8" y="410" width="23.2" height="4.0" rx="0" fill="#000" opacity="0.182" filter="url(#bl15)"/><rect x="486.8" y="413.5" width="23.2" height="14.5" rx="0" fill="#000" opacity="0.52" filter="url(#bl15)"/><line x1="488.3" y1="418.8" x2="508.5" y2="418.8" stroke="#000" stroke-width="3" stroke-linecap="round" opacity="0.26" filter="url(#bl10)"/><line x1="488.3" y1="428.0" x2="508.5" y2="428.0" stroke="#000" stroke-width="3" stroke-linecap="round" opacity="0.234" filter="url(#bl10)"/><line x1="489.4" y1="423.6" x2="507.4" y2="423.6" stroke="#fff" stroke-width="1.2" stroke-linecap="round" opacity="0.08" filter="url(#bl8)"/><rect x="461" y="416.6" width="21.0" height="6.5" rx="3.25" fill="#000" opacity="0.6" filter="url(#bl13)"/><rect x="488" y="415.5" width="20.0" height="6" rx="3.0" fill="#000" opacity="0.6" filter="url(#bl13)"/><rect x="488" y="423.0" width="18.0" height="3" rx="1.5" fill="#000" opacity="0.35" filter="url(#bl10)"/><rect x="367.3" y="409" width="3" height="28" fill="#d6d6d6" opacity="1" filter="url(#bl9)"/><rect x="396.4" y="409" width="3" height="28" fill="#d6d6d6" opacity="1" filter="url(#bl9)"/><rect x="426.1" y="409" width="3" height="28" fill="#d6d6d6" opacity="1" filter="url(#bl9)"/><rect x="455.8" y="409" width="3" height="28" fill="#d6d6d6" opacity="1" filter="url(#bl9)"/><rect x="483.9" y="409" width="3" height="28" fill="#d6d6d6" opacity="1" filter="url(#bl9)"/></g></svg><rect x="335.0" y="409.1" width="184.0" height="27.2" fill="none" stroke="#000" stroke-width="2"/></g><g><rect x="138.5" y="447.2" width="184.5" height="29.3" fill="#c0c0c0"/><rect x="140.1" y="448.8" width="181.3" height="26.1" fill="none" stroke="#d2d2d2" stroke-width="0.9"/><svg x="138.5" y="447.2" width="184.5" height="29.30000000000001" overflow="hidden"><g transform="translate(-138.5,-447.2)"><path d="M145.2 461.5 C145.2 458 148 457.6 153 457.6 L168 457.8 C171.5 458 172.2 459.5 172.2 461.5 C172.2 464 171 465.3 168 465.3 L153 465.3 C148 465.3 145.2 465 145.2 461.5Z" fill="#000" opacity="1" filter="url(#bl10)"/><rect x="175.9" y="458.6" width="24.7" height="4.2" rx="2.1" fill="#000" opacity="0.82" filter="url(#bl9)"/><rect x="206.2" y="459.4" width="26.5" height="2.0" rx="1.0" fill="#000" opacity="0.42" filter="url(#bl8)"/></g></svg><rect x="138.5" y="447.2" width="184.5" height="29.3" fill="none" stroke="#000" stroke-width="2"/></g><g><rect x="335.0" y="447.2" width="184.0" height="29.3" fill="#c0c0c0"/><rect x="336.6" y="448.8" width="180.8" height="26.1" fill="none" stroke="#d2d2d2" stroke-width="0.9"/><svg x="335" y="447.2" width="184" height="29.30000000000001" overflow="hidden"><g transform="translate(-335,-447.2)"><path d="M340.8 463.5 C340.8 458.5 344 458 350 458.2 L362 459.5 C366.5 460 368 461.5 368 463.8 C368 466.5 366.5 467.8 362 468 L350 469 C344 469.2 340.8 468.5 340.8 463.5Z" fill="#000" opacity="1" filter="url(#bl10)"/><path d="M370.3 463.5 C370.3 460.3 372.5 460.3 376 460.5 L391 461 C394.6 461.2 394.6 462.5 394.6 463.6 C394.6 465.2 394.6 466.2 391 466.4 L376 466.8 C372.5 466.9 370.3 466.8 370.3 463.5Z" fill="#000" opacity="0.97" filter="url(#bl9)"/><rect x="398.9" y="461.6" width="24.8" height="4.4" rx="2.2" fill="#000" opacity="0.9" filter="url(#bl9)"/><path d="M428.5 463.6 C436 463.8 445 463 451.5 462.3 L451.5 464.2 C445 465 436 465.6 428.5 465.6 Z" fill="#000" opacity="0.55" filter="url(#bl8)"/><ellipse cx="352" cy="470.5" rx="7" ry="1.8" fill="#000" opacity="0.12" filter="url(#bl12)"/></g></svg><rect x="335.0" y="447.2" width="184.0" height="29.3" fill="none" stroke="#000" stroke-width="2"/></g><g><rect x="138.5" y="483.2" width="184.5" height="27.4" fill="#c0c0c0"/><rect x="140.1" y="484.8" width="181.3" height="24.2" fill="none" stroke="#d2d2d2" stroke-width="0.9"/><svg x="138.5" y="483.2" width="184.5" height="27.400000000000034" overflow="hidden"><g transform="translate(-138.5,-483.2)"><line x1="146.2" y1="500.6" x2="165.5" y2="500.6" stroke="#000" stroke-width="6.7" stroke-linecap="round" opacity="1" filter="url(#bl9)"/><line x1="175.4" y1="499.3" x2="183.2" y2="499.5" stroke="#000" stroke-width="5.6" stroke-linecap="round" opacity="0.95" filter="url(#bl9)"/><line x1="183.0" y1="500.4" x2="198.5" y2="500.2" stroke="#000" stroke-width="6" stroke-linecap="round" opacity="1" filter="url(#bl9)"/><line x1="207.6" y1="500.7" x2="228.9" y2="500.1" stroke="#000" stroke-width="6.7" stroke-linecap="round" opacity="1" filter="url(#bl9)"/><line x1="238.7" y1="500.1" x2="258.2" y2="497.9" stroke="#000" stroke-width="6.5" stroke-linecap="round" opacity="1" filter="url(#bl9)"/><line x1="268.5" y1="498.0" x2="288.3" y2="495.4" stroke="#000" stroke-width="7" stroke-linecap="round" opacity="1" filter="url(#bl9)"/><line x1="266.8" y1="505.5" x2="290.2" y2="503.7" stroke="#000" stroke-width="1.6" stroke-linecap="round" opacity="0.3" filter="url(#bl8)"/><line x1="298.3" y1="496.5" x2="316.8" y2="493.7" stroke="#000" stroke-width="7.5" stroke-linecap="round" opacity="1" filter="url(#bl9)"/><line x1="299.0" y1="504.2" x2="314.2" y2="502.8" stroke="#000" stroke-width="3.2" stroke-linecap="round" opacity="0.85" filter="url(#bl8)"/></g></svg><rect x="138.5" y="483.2" width="184.5" height="27.4" fill="none" stroke="#000" stroke-width="2"/></g><g><rect x="335.0" y="483.2" width="184.0" height="27.4" fill="#c0c0c0"/><rect x="336.6" y="484.8" width="180.8" height="24.2" fill="none" stroke="#d2d2d2" stroke-width="0.9"/><svg x="335" y="483.2" width="184" height="27.400000000000034" overflow="hidden"><g transform="translate(-335,-483.2)"><line x1="345.4" y1="494.4" x2="362.4" y2="496.8" stroke="#000" stroke-width="7.8" stroke-linecap="round" opacity="1" filter="url(#bl9)"/><line x1="373.6" y1="496.2" x2="391.2" y2="496.4" stroke="#000" stroke-width="7.6" stroke-linecap="round" opacity="1" filter="url(#bl9)"/><line x1="402.0" y1="496.5" x2="418.6" y2="496.7" stroke="#000" stroke-width="7.6" stroke-linecap="round" opacity="1" filter="url(#bl9)"/><line x1="430.5" y1="497.3" x2="447.5" y2="497.5" stroke="#000" stroke-width="7.6" stroke-linecap="round" opacity="1" filter="url(#bl9)"/><line x1="458.8" y1="498.3" x2="475.7" y2="498.5" stroke="#000" stroke-width="7.6" stroke-linecap="round" opacity="1" filter="url(#bl9)"/><line x1="486.9" y1="499.3" x2="507.2" y2="499.1" stroke="#000" stroke-width="7.6" stroke-linecap="round" opacity="1" filter="url(#bl9)"/><line x1="342.2" y1="504.6" x2="355.8" y2="505.4" stroke="#000" stroke-width="2.4" stroke-linecap="round" opacity="0.25" filter="url(#bl10)"/><line x1="343.9" y1="507.8" x2="359.1" y2="508.0" stroke="#000" stroke-width="1.8" stroke-linecap="round" opacity="0.15" filter="url(#bl10)"/><line x1="373.0" y1="505.5" x2="389.0" y2="505.5" stroke="#000" stroke-width="2" stroke-linecap="round" opacity="0.12" filter="url(#bl10)"/><line x1="456.8" y1="506.0" x2="475.2" y2="506.0" stroke="#000" stroke-width="1.6" stroke-linecap="round" opacity="0.1" filter="url(#bl10)"/></g></svg><rect x="335.0" y="483.2" width="184.0" height="27.4" fill="none" stroke="#000" stroke-width="2"/></g><g><rect x="138.5" y="520.0" width="184.5" height="29.6" fill="#c0c0c0"/><rect x="140.1" y="521.6" width="181.3" height="26.4" fill="none" stroke="#d2d2d2" stroke-width="0.9"/><svg x="138.5" y="520" width="184.5" height="29.600000000000023" overflow="hidden"><g transform="translate(-138.5,-520)"><path d="M145.7 528.2 C150 528 160 529 168.8 530 L168.8 533 C160 532.5 150 531.5 145.7 530.8 Z" fill="#000" opacity="1" filter="url(#bl8)"/><path d="M143.5 533.2 C146 533 158 533.8 168.8 534.3 C170.5 535 170.5 538.5 168.8 539 C158 539 148 537 143.5 534.4 Z" fill="#000" opacity="1" filter="url(#bl8)"/><path d="M172.6 535 C180 534.8 192 534.6 199 534.5 C202.5 534.5 202.5 538.3 199 538.3 C192 538.2 180 538 172.6 537.8 Z" fill="#000" opacity="1" filter="url(#bl8)"/><rect x="207.2" y="534.9" width="23.1" height="1.6" rx="0.8" fill="#000" opacity="0.35" filter="url(#bl7)"/><rect x="193.6" y="519.5" width="2.8" height="8.0" rx="0" fill="#000" opacity="1" filter="url(#bl8)"/></g></svg><rect x="138.5" y="520.0" width="184.5" height="29.6" fill="none" stroke="#000" stroke-width="2"/></g><g><rect x="335.0" y="520.0" width="184.0" height="29.6" fill="#c0c0c0"/><rect x="336.6" y="521.6" width="180.8" height="26.4" fill="none" stroke="#d2d2d2" stroke-width="0.9"/><svg x="335" y="520" width="184" height="29.600000000000023" overflow="hidden"><g transform="translate(-335,-520)"><path d="M343 529.2 C350 529.3 358 530 363 530.3 C364.5 530.5 364.5 533.5 363 533.6 C357 533.3 350 532 343 530.8 Z" fill="#000" opacity="1" filter="url(#bl8)"/><path d="M336.5 533.5 C342 533.2 355 534.5 362.5 535.6 C365.5 536 365.5 540.5 362.5 540.8 C355 540.5 343 538 336.5 534.8 Z" fill="#000" opacity="1" filter="url(#bl8)"/><line x1="370.1" y1="533.6" x2="390.2" y2="533.4" stroke="#000" stroke-width="3" stroke-linecap="round" opacity="0.8" filter="url(#bl8)"/><line x1="371.1" y1="540.2" x2="390.6" y2="540.2" stroke="#000" stroke-width="5.8" stroke-linecap="round" opacity="1" filter="url(#bl8)"/><line x1="397.5" y1="533.2" x2="417.0" y2="533.0" stroke="#000" stroke-width="2.4" stroke-linecap="round" opacity="0.4" filter="url(#bl8)"/><line x1="398.0" y1="540.2" x2="416.6" y2="539.8" stroke="#000" stroke-width="5.6" stroke-linecap="round" opacity="0.97" filter="url(#bl8)"/><line x1="425.4" y1="538.6" x2="446.5" y2="539.2" stroke="#000" stroke-width="2.4" stroke-linecap="round" opacity="0.35" filter="url(#bl10)"/><ellipse cx="440" cy="543" rx="6" ry="4" fill="#000" opacity="0.18" filter="url(#bl14)"/><ellipse cx="444" cy="539" rx="3" ry="1.5" fill="#000" opacity="0.3" filter="url(#bl8)"/></g></svg><rect x="335.0" y="520.0" width="184.0" height="29.6" fill="none" stroke="#000" stroke-width="2"/></g><g><rect x="138.5" y="558.4" width="184.5" height="28.1" fill="#c0c0c0"/><rect x="140.1" y="560.0" width="181.3" height="24.9" fill="none" stroke="#d2d2d2" stroke-width="0.9"/><svg x="138.5" y="558.4" width="184.5" height="28.100000000000023" overflow="hidden"><g transform="translate(-138.5,-558.4)"><line x1="147.4" y1="569.0" x2="170.1" y2="569.0" stroke="#000" stroke-width="4.8" stroke-linecap="round" opacity="1" filter="url(#bl9)"/><line x1="147.0" y1="575.8" x2="170.5" y2="575.8" stroke="#000" stroke-width="9" stroke-linecap="round" opacity="1" filter="url(#bl9)"/><line x1="181.8" y1="569.0" x2="198.2" y2="569.0" stroke="#000" stroke-width="4.8" stroke-linecap="round" opacity="1" filter="url(#bl9)"/><line x1="181.4" y1="575.8" x2="198.6" y2="575.8" stroke="#000" stroke-width="9" stroke-linecap="round" opacity="1" filter="url(#bl9)"/><line x1="209.8" y1="569.0" x2="225.6" y2="569.0" stroke="#000" stroke-width="4.8" stroke-linecap="round" opacity="1" filter="url(#bl9)"/><line x1="209.4" y1="575.8" x2="226.0" y2="575.8" stroke="#000" stroke-width="9" stroke-linecap="round" opacity="1" filter="url(#bl9)"/><line x1="236.6" y1="569.0" x2="252.6" y2="569.0" stroke="#000" stroke-width="4.8" stroke-linecap="round" opacity="1" filter="url(#bl9)"/><line x1="236.2" y1="575.8" x2="253.0" y2="575.8" stroke="#000" stroke-width="9" stroke-linecap="round" opacity="1" filter="url(#bl9)"/><line x1="264.3" y1="569.0" x2="280.6" y2="569.0" stroke="#000" stroke-width="4.8" stroke-linecap="round" opacity="1" filter="url(#bl9)"/><line x1="263.9" y1="575.8" x2="281.0" y2="575.8" stroke="#000" stroke-width="9" stroke-linecap="round" opacity="1" filter="url(#bl9)"/><line x1="293.2" y1="566.4" x2="310.3" y2="565.6" stroke="#000" stroke-width="5.5" stroke-linecap="round" opacity="1" filter="url(#bl9)"/><line x1="292.5" y1="573.3" x2="310.3" y2="572.7" stroke="#000" stroke-width="9" stroke-linecap="round" opacity="1" filter="url(#bl9)"/><line x1="301.8" y1="569.5" x2="314.8" y2="569.5" stroke="#000" stroke-width="3.5" stroke-linecap="round" opacity="1" filter="url(#bl8)"/></g></svg><rect x="138.5" y="558.4" width="184.5" height="28.1" fill="none" stroke="#000" stroke-width="2"/></g><g><rect x="335.0" y="558.4" width="184.0" height="28.1" fill="#c0c0c0"/><rect x="336.6" y="560.0" width="180.8" height="24.9" fill="none" stroke="#d2d2d2" stroke-width="0.9"/><svg x="335" y="558.4" width="184" height="28.100000000000023" overflow="hidden"><g transform="translate(-335,-558.4)"><rect x="342" y="567.5" width="144.0" height="13.0" rx="0" fill="#000" opacity="1" filter="url(#bl8)"/><line x1="342.1" y1="570.2" x2="364.4" y2="570.2" stroke="#000" stroke-width="7.2" stroke-linecap="round" opacity="1" filter="url(#bl9)"/><line x1="342.0" y1="576.0" x2="364.5" y2="576.0" stroke="#000" stroke-width="10" stroke-linecap="round" opacity="1" filter="url(#bl9)"/><line x1="371.1" y1="570.2" x2="392.9" y2="570.2" stroke="#000" stroke-width="7.2" stroke-linecap="round" opacity="1" filter="url(#bl9)"/><line x1="371.0" y1="576.0" x2="393.0" y2="576.0" stroke="#000" stroke-width="10" stroke-linecap="round" opacity="1" filter="url(#bl9)"/><line x1="399.6" y1="570.2" x2="422.9" y2="570.2" stroke="#000" stroke-width="7.2" stroke-linecap="round" opacity="1" filter="url(#bl9)"/><line x1="399.5" y1="576.0" x2="423.0" y2="576.0" stroke="#000" stroke-width="10" stroke-linecap="round" opacity="1" filter="url(#bl9)"/><line x1="429.6" y1="570.2" x2="452.4" y2="570.2" stroke="#000" stroke-width="7.2" stroke-linecap="round" opacity="1" filter="url(#bl9)"/><line x1="429.5" y1="576.0" x2="452.5" y2="576.0" stroke="#000" stroke-width="10" stroke-linecap="round" opacity="1" filter="url(#bl9)"/><line x1="459.1" y1="570.2" x2="481.4" y2="570.2" stroke="#000" stroke-width="7.2" stroke-linecap="round" opacity="1" filter="url(#bl9)"/><line x1="459.0" y1="576.0" x2="481.5" y2="576.0" stroke="#000" stroke-width="10" stroke-linecap="round" opacity="1" filter="url(#bl9)"/><path d="M484 566.5 L500 564.5 L511 562.6 C514.5 562.6 515.5 566 514 568.5 C516 570.5 515.5 574 512 575.5 L500 578.5 L484 581.2 Z" fill="#000" opacity="1" filter="url(#bl10)"/><rect x="337" y="580.5" width="179.0" height="5.0" rx="0" fill="#000" opacity="0.55" filter="url(#bl10)"/><ellipse cx="367.8" cy="583.5" rx="2.2" ry="1.6" fill="#e2e2e2" opacity="0.95" filter="url(#bl9)"/><ellipse cx="367.8" cy="566.4" rx="1.4" ry="1.2" fill="#bbb" opacity="0.6" filter="url(#bl8)"/><ellipse cx="396.1" cy="583.5" rx="2.2" ry="1.6" fill="#e2e2e2" opacity="0.95" filter="url(#bl9)"/><ellipse cx="396.1" cy="566.4" rx="1.4" ry="1.2" fill="#bbb" opacity="0.6" filter="url(#bl8)"/><ellipse cx="426.2" cy="583.5" rx="2.2" ry="1.6" fill="#e2e2e2" opacity="0.95" filter="url(#bl9)"/><ellipse cx="426.2" cy="566.4" rx="1.4" ry="1.2" fill="#bbb" opacity="0.6" filter="url(#bl8)"/><ellipse cx="455.5" cy="583.5" rx="2.2" ry="1.6" fill="#e2e2e2" opacity="0.95" filter="url(#bl9)"/><ellipse cx="455.5" cy="566.4" rx="1.4" ry="1.2" fill="#bbb" opacity="0.6" filter="url(#bl8)"/><ellipse cx="484.5" cy="583.5" rx="2.2" ry="1.6" fill="#e2e2e2" opacity="0.95" filter="url(#bl9)"/><ellipse cx="484.5" cy="566.4" rx="1.4" ry="1.2" fill="#bbb" opacity="0.6" filter="url(#bl8)"/><line x1="489.2" y1="584.5" x2="507.8" y2="582.3" stroke="#000" stroke-width="2.4" stroke-linecap="round" opacity="0.85" filter="url(#bl7)"/></g></svg><rect x="335.0" y="558.4" width="184.0" height="28.1" fill="none" stroke="#000" stroke-width="2"/></g><g><rect x="138.5" y="596.8" width="184.5" height="25.0" fill="#c0c0c0"/><rect x="140.1" y="598.4" width="181.3" height="21.8" fill="none" stroke="#d2d2d2" stroke-width="0.9"/><svg x="138.5" y="596.8" width="184.5" height="25.0" overflow="hidden"><g transform="translate(-138.5,-596.8)"><path d="M142.8 605.8 C142.8 604.2 144 604.2 146 604.4 L163 605.8 C166.5 606 166.5 610.8 163 610.6 L146 607.8 C144 607.5 142.8 607.4 142.8 605.8 Z" fill="#000" opacity="1" filter="url(#bl8)"/><rect x="176" y="608.4" width="19.0" height="2.2" rx="1.1" fill="#000" opacity="0.28" filter="url(#bl10)"/><ellipse cx="185" cy="609.4" rx="2.4" ry="1.7" fill="#000" opacity="0.45" filter="url(#bl8)"/><ellipse cx="193" cy="609.3" rx="1.8" ry="1.5" fill="#000" opacity="0.45" filter="url(#bl7)"/></g></svg><rect x="138.5" y="596.8" width="184.5" height="25.0" fill="none" stroke="#000" stroke-width="2"/></g><g><rect x="335.0" y="596.8" width="184.0" height="25.0" fill="#c0c0c0"/><rect x="336.6" y="598.4" width="180.8" height="21.8" fill="none" stroke="#d2d2d2" stroke-width="0.9"/><svg x="335" y="596.8" width="184" height="25.0" overflow="hidden"><g transform="translate(-335,-596.8)"><path d="M340.5 609.3 C340.5 607.6 343 607.6 346 608 L355 609.6 L355 611.4 L346 611.3 C343 611.2 340.5 611 340.5 609.3 Z" fill="#000" opacity="1" filter="url(#bl7)"/><ellipse cx="359" cy="611" rx="4.3" ry="3.3" fill="#000" opacity="1" filter="url(#bl8)"/><path d="M371 611.2 L387 610.8 L387 614.2 L371 614 Z" fill="#000" opacity="1" filter="url(#bl8)"/><ellipse cx="389.8" cy="612.6" rx="3.6" ry="2.7" fill="#000" opacity="1" filter="url(#bl8)"/><ellipse cx="371.5" cy="612.6" rx="1.8" ry="1.7" fill="#000" opacity="0.75" filter="url(#bl6)"/><path d="M402 611.6 L421 611.5 L421 614.4 L402 614.6 Z" fill="#000" opacity="0.85" filter="url(#bl8)"/><ellipse cx="402.5" cy="613" rx="2.6" ry="2.1" fill="#000" opacity="0.95" filter="url(#bl7)"/><ellipse cx="420.8" cy="613" rx="2.4" ry="2.1" fill="#000" opacity="0.95" filter="url(#bl7)"/></g></svg><rect x="335.0" y="596.8" width="184.0" height="25.0" fill="none" stroke="#000" stroke-width="2"/></g><g><rect x="138.5" y="632.3" width="184.5" height="32.9" fill="#c0c0c0"/><rect x="140.1" y="633.9" width="181.3" height="29.7" fill="none" stroke="#d2d2d2" stroke-width="0.9"/><svg x="138.5" y="632.3" width="184.5" height="32.90000000000009" overflow="hidden"><g transform="translate(-138.5,-632.3)"><line x1="148.1" y1="652.8" x2="170.4" y2="652.6" stroke="#000" stroke-width="10.2" stroke-linecap="round" opacity="1" filter="url(#bl11)"/><rect x="146" y="637.6" width="26.5" height="11.0" rx="0" fill="#000" opacity="0.12" filter="url(#bl22)"/><line x1="181.6" y1="652.6" x2="199.9" y2="652.4" stroke="#000" stroke-width="10.2" stroke-linecap="round" opacity="1" filter="url(#bl11)"/><rect x="179.5" y="637.4" width="22.5" height="11.0" rx="0" fill="#000" opacity="0.12" filter="url(#bl22)"/><line x1="210.9" y1="652.4" x2="229.4" y2="652.2" stroke="#000" stroke-width="10.2" stroke-linecap="round" opacity="1" filter="url(#bl11)"/><rect x="208.8" y="637.2" width="22.7" height="11.0" rx="0" fill="#000" opacity="0.12" filter="url(#bl22)"/><line x1="240.1" y1="652.2" x2="257.4" y2="652.1" stroke="#000" stroke-width="10.2" stroke-linecap="round" opacity="1" filter="url(#bl11)"/><rect x="238" y="637" width="21.5" height="11.0" rx="0" fill="#000" opacity="0.12" filter="url(#bl22)"/><line x1="268.5" y1="651.8" x2="284.4" y2="651.2" stroke="#000" stroke-width="10.2" stroke-linecap="round" opacity="1" filter="url(#bl11)"/><rect x="266.4" y="636" width="20.1" height="11.0" rx="0" fill="#000" opacity="0.12" filter="url(#bl22)"/><line x1="296.2" y1="649.4" x2="310.9" y2="647.6" stroke="#000" stroke-width="10.2" stroke-linecap="round" opacity="1" filter="url(#bl11)"/><rect x="294.1" y="632" width="18.9" height="11.0" rx="0" fill="#000" opacity="0.12" filter="url(#bl22)"/></g></svg><rect x="138.5" y="632.3" width="184.5" height="32.9" fill="none" stroke="#000" stroke-width="2"/></g><g><rect x="335.0" y="632.3" width="184.0" height="32.9" fill="#c0c0c0"/><rect x="336.6" y="633.9" width="180.8" height="29.7" fill="none" stroke="#d2d2d2" stroke-width="0.9"/><svg x="335" y="632.3" width="184" height="32.90000000000009" overflow="hidden"><g transform="translate(-335,-632.3)"><rect x="341.2" y="643.6" width="28.1" height="12" rx="3.5" fill="#000" opacity="1" filter="url(#bl12)"/><rect x="344.2" y="654.6" width="22.1" height="9.0" rx="0" fill="#000" opacity="0.14" filter="url(#bl20)"/><rect x="372.9" y="643.6" width="25.7" height="12" rx="3.5" fill="#000" opacity="1" filter="url(#bl12)"/><rect x="375.9" y="654.6" width="19.7" height="9.0" rx="0" fill="#000" opacity="0.14" filter="url(#bl20)"/><rect x="401.8" y="643.6" width="26.2" height="12" rx="3.5" fill="#000" opacity="1" filter="url(#bl12)"/><rect x="404.8" y="654.6" width="20.2" height="9.0" rx="0" fill="#000" opacity="0.14" filter="url(#bl20)"/><rect x="431.4" y="643.8" width="25.6" height="12" rx="3.5" fill="#000" opacity="1" filter="url(#bl12)"/><rect x="434.4" y="654.8" width="19.6" height="9.0" rx="0" fill="#000" opacity="0.14" filter="url(#bl20)"/><rect x="460.3" y="644.0" width="24.0" height="12" rx="3.5" fill="#000" opacity="1" filter="url(#bl12)"/><rect x="463.3" y="655" width="18.0" height="9.0" rx="0" fill="#000" opacity="0.14" filter="url(#bl20)"/><path d="M488.2 646.5 C490 641.5 500 640 512.8 639 L512.8 647.5 C505 649 495 650.5 488.2 651.5 Z" fill="#000" opacity="1" filter="url(#bl12)"/><rect x="490" y="652" width="22.0" height="7.0" rx="0" fill="#000" opacity="0.12" filter="url(#bl20)"/></g></svg><rect x="335.0" y="632.3" width="184.0" height="32.9" fill="none" stroke="#000" stroke-width="2"/></g><g><rect x="138.5" y="674.3" width="184.5" height="36.7" fill="#c3c3c3"/><rect x="140.1" y="675.9" width="181.3" height="33.5" fill="none" stroke="#d2d2d2" stroke-width="0.9"/><svg x="138.5" y="674.3" width="184.5" height="36.700000000000045" overflow="hidden"><g transform="translate(-138.5,-674.3)"><line x1="150.3" y1="695.2" x2="171.9" y2="695.0" stroke="#000" stroke-width="4.6" stroke-linecap="round" opacity="0.95" filter="url(#bl10)"/><line x1="182.8" y1="694.8" x2="201.7" y2="694.6" stroke="#000" stroke-width="4.6" stroke-linecap="round" opacity="0.95" filter="url(#bl10)"/><line x1="212.6" y1="694.2" x2="230.7" y2="694.0" stroke="#000" stroke-width="4.6" stroke-linecap="round" opacity="0.95" filter="url(#bl10)"/><line x1="240.5" y1="694.0" x2="258.9" y2="693.6" stroke="#000" stroke-width="4.6" stroke-linecap="round" opacity="0.95" filter="url(#bl10)"/><line x1="268.1" y1="692.9" x2="287.5" y2="692.5" stroke="#000" stroke-width="4.6" stroke-linecap="round" opacity="0.95" filter="url(#bl10)"/><line x1="297.9" y1="691.7" x2="313.2" y2="688.7" stroke="#000" stroke-width="5" stroke-linecap="round" opacity="0.97" filter="url(#bl10)"/></g></svg><rect x="138.5" y="674.3" width="184.5" height="36.7" fill="none" stroke="#000" stroke-width="2"/></g><g><rect x="335.0" y="674.3" width="184.0" height="36.7" fill="#c3c3c3"/><rect x="336.6" y="675.9" width="180.8" height="33.5" fill="none" stroke="#d2d2d2" stroke-width="0.9"/><svg x="335" y="674.3" width="184" height="36.700000000000045" overflow="hidden"><g transform="translate(-335,-674.3)"><line x1="342.1" y1="697.3" x2="365.7" y2="697.3" stroke="#000" stroke-width="5.4" stroke-linecap="round" opacity="0.97" filter="url(#bl10)"/><line x1="374.7" y1="696.7" x2="396.4" y2="696.3" stroke="#000" stroke-width="5.4" stroke-linecap="round" opacity="0.97" filter="url(#bl10)"/><line x1="404.8" y1="696.6" x2="426.0" y2="696.2" stroke="#000" stroke-width="6" stroke-linecap="round" opacity="0.97" filter="url(#bl10)"/><line x1="434.1" y1="695.8" x2="455.5" y2="695.4" stroke="#000" stroke-width="5.4" stroke-linecap="round" opacity="0.97" filter="url(#bl10)"/><line x1="463.8" y1="694.7" x2="485.8" y2="694.4" stroke="#000" stroke-width="5.6" stroke-linecap="round" opacity="0.97" filter="url(#bl10)"/><line x1="493.4" y1="693.2" x2="512.5" y2="687.8" stroke="#000" stroke-width="6" stroke-linecap="round" opacity="0.97" filter="url(#bl10)"/><ellipse cx="364" cy="681" rx="1.5" ry="1.5" fill="#000" opacity="0.15" filter="url(#bl10)"/></g></svg><rect x="335.0" y="674.3" width="184.0" height="36.7" fill="none" stroke="#000" stroke-width="2"/></g></g></svg>
</body></html>
